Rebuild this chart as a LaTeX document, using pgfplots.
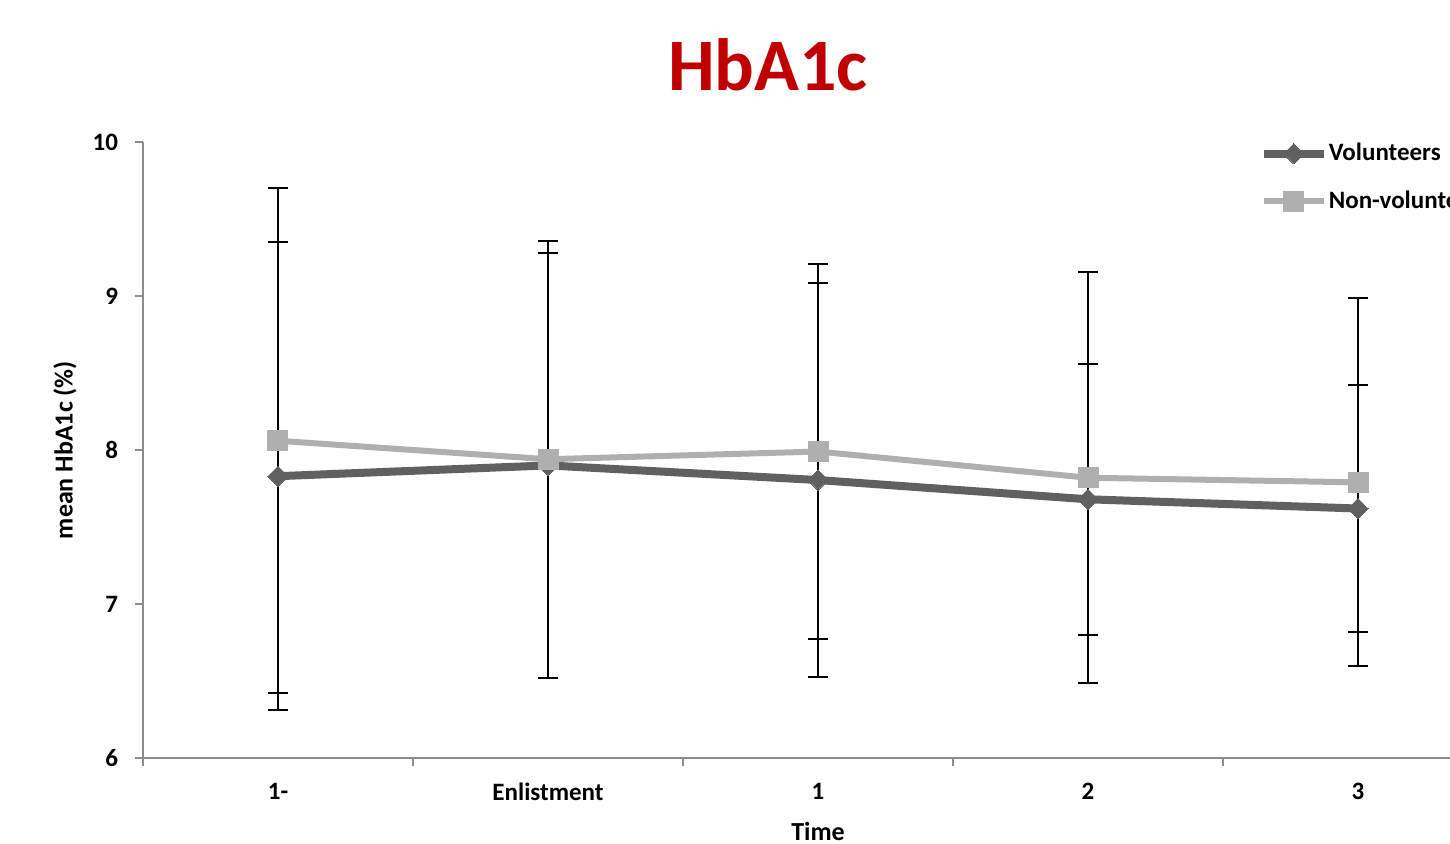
\documentclass[border=0pt]{standalone}
\usepackage{pgfplots}
\pgfplotsset{compat=1.18}
\usepackage{fontspec}
\setmainfont{Carlito}
\definecolor{volc}{HTML}{606060}
\definecolor{nonc}{HTML}{AFAFAF}
\definecolor{axc}{HTML}{8C8C8C}
\definecolor{titc}{HTML}{C00000}
\begin{document}
\begin{tikzpicture}
\begin{axis}[
  at={(0pt,0pt)}, anchor=south west,
  scale only axis,
  width=675pt, height=308pt,
  xmin=-0.5, xmax=4.5,
  ymin=6, ymax=10,
  axis lines=left,
  axis line style={-, draw=axc, line width=1pt},
  ytick={6,7,8,9,10},
  xtick={-0.5,0.5,1.5,2.5,3.5,4.5},
  xticklabels={},
  extra x ticks={0,1,2,3,4},
  extra x tick labels={1-,Enlistment,1,2,3},
  extra x tick style={major tick length=0pt, tick label style={yshift=-9pt}},
  tick align=outside,
  major tick length=4pt,
  tick style={draw=axc, line width=1pt},
  /pgf/number format/assume math mode=true,
  tick label style={font=\bfseries\fontsize{12.5}{14}\selectfont, text=black},
  yticklabel style={xshift=-5pt},
  xlabel={Time},
  ylabel={mean HbA1c (\%)},
  label style={font=\bfseries\fontsize{13}{15}\selectfont},
  xlabel style={at={(axis description cs:0.5,-0.119)}, anchor=center},
  ylabel style={at={(axis description cs:-0.0578,0.5)}, anchor=center},
  legend style={at={(axis description cs:0.827,1.0)}, anchor=north west,
    draw=none, fill=none, inner sep=0pt, row sep=12.5pt,
    font=\bfseries\fontsize{12.5}{15}\selectfont,
    nodes={inner sep=0.5pt, anchor=west}},
  legend cell align=left,
  legend image code/.code={\draw[mark repeat=2,mark phase=2,#1] plot coordinates {(0pt,0pt) (15pt,0pt) (30pt,0pt)};},
  clip=false,
]
\addplot[volc, line width=4pt, mark=square*, mark size=3.6pt,
  mark options={rotate=45, line width=0pt, fill=volc, draw=volc},
  error bars/.cd, y dir=both, y explicit,
  error bar style={black, line width=1pt},
  error mark options={black, line width=1pt, mark size=5pt, rotate=90}]
  coordinates {
  (0,7.83) +- (0,1.52)
  (1,7.90) +- (0,1.38)
  (2,7.805) +- (0,1.28)
  (3,7.68) +- (0,0.88)
  (4,7.62) +- (0,0.80)
};
\addlegendentry{Volunteers}
\addplot[nonc, line width=3pt, mark=square*, mark size=5pt,
  mark options={line width=0pt, fill=nonc, draw=nonc},
  error bars/.cd, y dir=both, y explicit,
  error bar style={black, line width=1pt},
  error mark options={black, line width=1pt, mark size=5pt, rotate=90}]
  coordinates {
  (0,8.06) +- (0,1.64)
  (1,7.94) +- (0,1.42)
  (2,7.99) +- (0,1.22)
  (3,7.82) +- (0,1.335)
  (4,7.79) +- (0,1.195)
};
\addlegendentry{Non-volunteers}
\end{axis}
\node[font=\bfseries\fontsize{37}{40}\selectfont, text=titc] at (312.5pt,346.5pt) {HbA1c};
\pgfresetboundingbox
\path[use as bounding box] (-71.5pt,-42.5pt) rectangle (653.5pt,379pt);
\end{tikzpicture}
\end{document}
